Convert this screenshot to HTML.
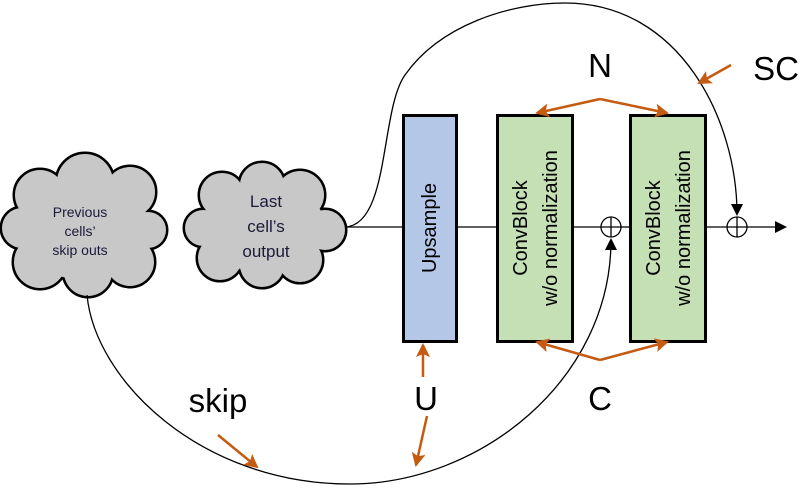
<!DOCTYPE html>
<html><head><meta charset="utf-8"><style>
html,body{margin:0;padding:0;background:#fff;}
svg{display:block;font-family:"Liberation Sans","DejaVu Sans",sans-serif;}
</style></head><body>
<svg width="805" height="491" viewBox="0 0 805 491" xmlns="http://www.w3.org/2000/svg">
<defs>
<marker id="ob" markerWidth="14" markerHeight="14" refX="12" refY="7" orient="auto" markerUnits="userSpaceOnUse"><path d="M0,0 L14,7 L0,14 L3,7 z" fill="#c55a11"/></marker>
<marker id="bk" markerWidth="12" markerHeight="12" refX="10" refY="6" orient="auto" markerUnits="userSpaceOnUse"><path d="M0,0 L12,6 L0,12 z" fill="#000"/></marker>
</defs>
<g stroke="#000" stroke-width="5" fill="#c8c8c8">
<circle cx="40" cy="195" r="25"/><circle cx="85" cy="182" r="28"/><circle cx="130" cy="192" r="25"/><circle cx="148" cy="230" r="18"/><circle cx="130" cy="262" r="24"/><circle cx="88" cy="272" r="24"/><circle cx="40" cy="262" r="26"/><circle cx="22" cy="228" r="20"/>
<circle cx="222" cy="195" r="22"/><circle cx="262" cy="185" r="22"/><circle cx="300" cy="195" r="24"/><circle cx="325" cy="230" r="20"/><circle cx="300" cy="260" r="22"/><circle cx="262" cy="265" r="22"/><circle cx="220" cy="258" r="22"/><circle cx="203" cy="228" r="18"/>
</g>
<g fill="#c8c8c8">
<circle cx="40" cy="195" r="25"/><circle cx="85" cy="182" r="28"/><circle cx="130" cy="192" r="25"/><circle cx="148" cy="230" r="18"/><circle cx="130" cy="262" r="24"/><circle cx="88" cy="272" r="24"/><circle cx="40" cy="262" r="26"/><circle cx="22" cy="228" r="20"/><ellipse cx="85" cy="230" rx="65" ry="50"/>
<circle cx="222" cy="195" r="22"/><circle cx="262" cy="185" r="22"/><circle cx="300" cy="195" r="24"/><circle cx="325" cy="230" r="20"/><circle cx="300" cy="260" r="22"/><circle cx="262" cy="265" r="22"/><circle cx="220" cy="258" r="22"/><circle cx="203" cy="228" r="18"/><ellipse cx="263" cy="227" rx="62" ry="45"/>
</g>
<g fill="#1a1a3a" text-anchor="middle">
<text x="80" y="217" font-size="14">Previous</text><text x="80" y="236" font-size="14">cells’</text><text x="80" y="255" font-size="14">skip outs</text>
<text x="266" y="207" font-size="17">Last</text><text x="266" y="232" font-size="17">cell’s</text><text x="266" y="257" font-size="17">output</text>
</g>
<g fill="none" stroke="#000" stroke-width="1.3">
<line x1="345" y1="227" x2="402" y2="227"/>
<line x1="457" y1="227" x2="496" y2="227"/>
<line x1="573" y1="227" x2="601" y2="227"/>
<line x1="621" y1="227" x2="629" y2="227"/>
<line x1="706" y1="227" x2="727" y2="227"/>
<line x1="747" y1="227" x2="785" y2="227" marker-end="url(#bk)"/>
<path d="M345,227 C390,225 380,110 405,75 C440,25 510,3 565,3 C680,3 737,120 737,214" marker-end="url(#bk)"/>
<path d="M87,295 C95,380 200,484 350,484 C480,484 611,380 611,240" marker-end="url(#bk)"/>
<circle cx="611" cy="227" r="10"/><line x1="601" y1="227" x2="621" y2="227"/><line x1="611" y1="217" x2="611" y2="237"/>
<circle cx="737" cy="227" r="10"/><line x1="727" y1="227" x2="747" y2="227"/><line x1="737" y1="217" x2="737" y2="237"/>
</g>
<rect x="403.5" y="115.5" width="53" height="226" fill="#b4c7e7" stroke="#000" stroke-width="3"/>
<rect x="497.5" y="115.5" width="75" height="226" fill="#c5e0b4" stroke="#000" stroke-width="3"/>
<rect x="630.5" y="115.5" width="75" height="226" fill="#c5e0b4" stroke="#000" stroke-width="3"/>
<g font-size="20" fill="#000" text-anchor="middle">
<text transform="translate(436,228) rotate(-90)">Upsample</text>
<text transform="translate(527,228) rotate(-90)">ConvBlock</text>
<text transform="translate(557,228) rotate(-90)">w/o normalization</text>
<text transform="translate(660,228) rotate(-90)">ConvBlock</text>
<text transform="translate(690,228) rotate(-90)">w/o normalization</text>
</g>
<g stroke="#c55a11" stroke-width="2.5" fill="none">
<line x1="600" y1="99" x2="537" y2="113" marker-end="url(#ob)"/>
<line x1="600" y1="99" x2="667" y2="113" marker-end="url(#ob)"/>
<line x1="600" y1="360" x2="537" y2="342" marker-end="url(#ob)"/>
<line x1="600" y1="360" x2="667" y2="342" marker-end="url(#ob)"/>
<line x1="423" y1="377" x2="423" y2="345" marker-end="url(#ob)"/>
<line x1="427" y1="416" x2="416" y2="465" marker-end="url(#ob)"/>
<line x1="218" y1="435" x2="257" y2="467" marker-end="url(#ob)"/>
<line x1="731" y1="65" x2="699" y2="83" marker-end="url(#ob)"/>
</g>
<g font-size="33" fill="#000" text-anchor="middle">
<text x="600" y="77">N</text>
<text x="776" y="80">SC</text>
<text x="600" y="410">C</text>
<text x="426" y="410">U</text>
<text x="218" y="412">skip</text>
</g>
</svg>
</body></html>
